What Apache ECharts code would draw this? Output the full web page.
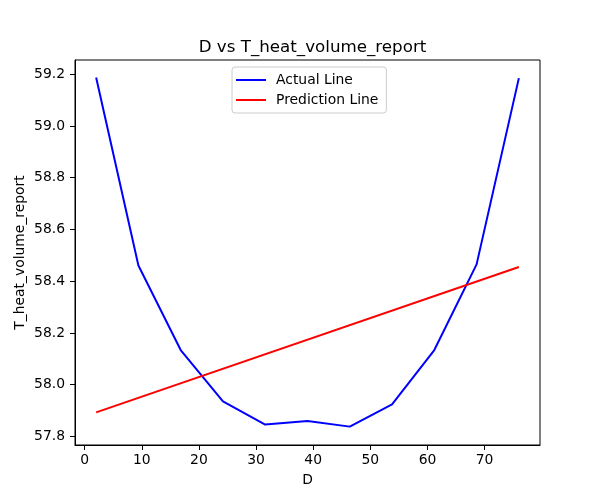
<!DOCTYPE html>
<html>
<head>
<meta charset="utf-8">
<script src="https://cdn.jsdelivr.net/npm/echarts@6/dist/echarts.min.js"></script>
<style>html,body{margin:0;padding:0;background:#fff}#c{width:600px;height:500px}</style>
</head>
<body>
<div id="c"></div>
<script>
const dValues = [2, 9.4, 16.8, 24.2, 31.6, 39, 46.4, 53.8, 61.2, 68.6, 76];
const actualValues = [59.187, 58.461, 58.134, 57.936, 57.846, 57.860, 57.838, 57.924, 58.134, 58.465, 59.185];
const predX = [2, 76];
const predValues = [57.893, 58.455];
const xTicks = [0, 10, 20, 30, 40, 50, 60, 70];
const yTicks = [57.8, 58.0, 58.2, 58.4, 58.6, 58.8, 59.0, 59.2];

const font = 'DejaVu Sans';
const chart = echarts.init(document.getElementById('c'), null, {renderer: 'canvas'});
chart.setOption({
  animation: false,
  backgroundColor: '#fff',
  title: {
    text: 'D vs T_heat_volume_report',
    left: 307.5, top: 34, textAlign: 'center',
    textStyle: {fontFamily: font, fontSize: 16.7, fontWeight: 'normal', color: '#000'}
  },
  legend: {
    orient: 'vertical', left: 232, top: 67,
    padding: [5, 8, 5, 4], itemGap: 4, itemWidth: 30, itemHeight: 2, icon: 'rect',
    borderColor: '#cccccc', borderWidth: 1, borderRadius: 3, backgroundColor: 'rgba(255,255,255,0.8)',
    textStyle: {fontFamily: font, fontSize: 13.9, color: '#000', padding: [0, 0, 0, 5], lineHeight: 16},
    data: ['Actual Line', 'Prediction Line']
  },
  grid: {left: 75, right: 60, top: 60, bottom: 55, show: true, borderColor: '#000', borderWidth: 1, containLabel: false},
  xAxis: {
    type: 'value', min: -1.7, max: 79.7,
    name: 'D', nameLocation: 'middle', nameGap: 28, nameMoveOverlap: false,
    nameTextStyle: {fontFamily: font, fontSize: 13.9, color: '#000'},
    axisLine: {show: true, onZero: false, lineStyle: {color: '#000', width: 1}},
    axisTick: {show: true, inside: false, length: 5, lineStyle: {color: '#000'}, customValues: xTicks},
    axisLabel: {fontFamily: font, fontSize: 13.9, color: '#000', margin: 8, customValues: xTicks},
    splitLine: {show: false}
  },
  yAxis: {
    type: 'value', min: 57.767, max: 59.255,
    name: 'T_heat_volume_report', nameLocation: 'middle', nameGap: 48, nameMoveOverlap: false,
    nameTextStyle: {fontFamily: font, fontSize: 13.9, color: '#000'},
    axisLine: {show: true, onZero: false, lineStyle: {color: '#000', width: 1}},
    axisTick: {show: true, inside: false, length: 5, lineStyle: {color: '#000'}, customValues: yTicks},
    axisLabel: {fontFamily: font, fontSize: 13.9, color: '#000', margin: 10, customValues: yTicks,
      formatter: v => v.toFixed(1)},
    splitLine: {show: false}
  },
  series: [
    {
      name: 'Actual Line', type: 'line', symbol: 'none',
      data: dValues.map((d, i) => [d, actualValues[i]]),
      lineStyle: {color: '#0000ff', width: 2}, itemStyle: {color: '#0000ff'}
    },
    {
      name: 'Prediction Line', type: 'line', symbol: 'none',
      data: predX.map((d, i) => [d, predValues[i]]),
      lineStyle: {color: '#ff0000', width: 2}, itemStyle: {color: '#ff0000'}
    }
  ]
});
</script>
</body>
</html>
